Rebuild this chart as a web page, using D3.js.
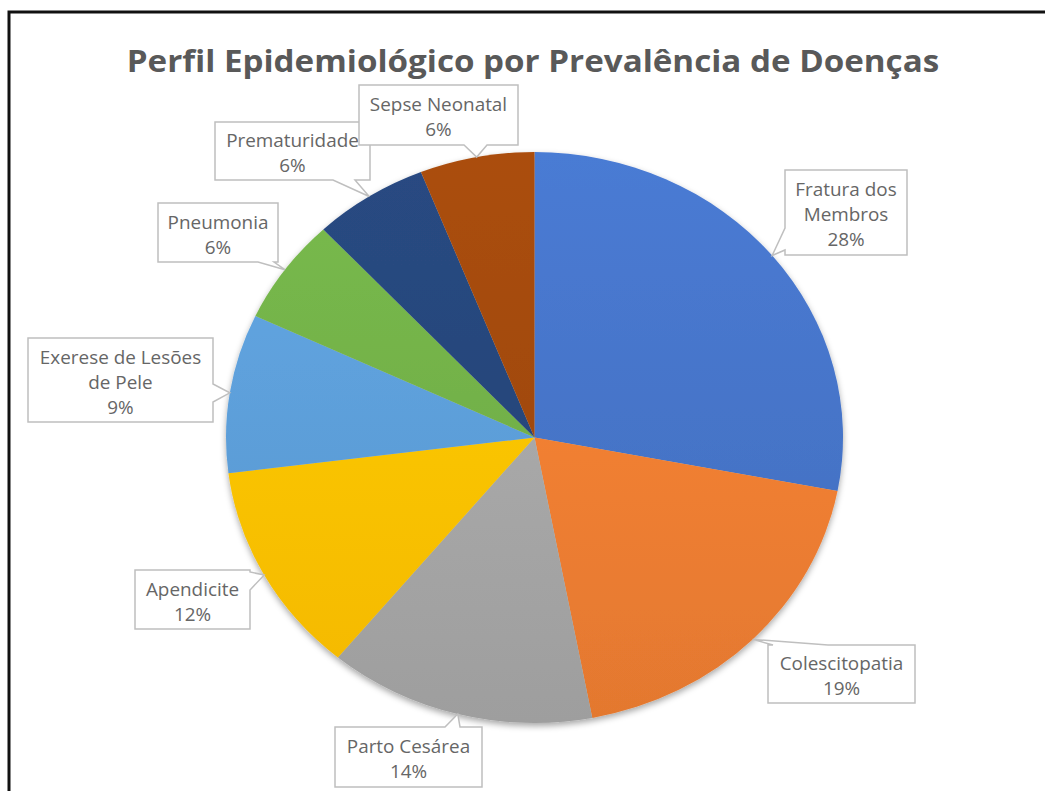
<!DOCTYPE html>
<html><head><meta charset="utf-8">
<script src="https://cdn.jsdelivr.net/npm/d3@7"></script>
<style>
html,body{margin:0;padding:0;background:#fff;}
svg{display:block;}
</style></head>
<body>
<svg id="chart" width="1045" height="791"></svg>
<script>
// ---- data ----
const categories = ["Fratura dos Membros","Colescitopatia","Parto Cesárea","Apendicite","Exerese de Lesões de Pele","Pneumonia","Prematuridade","Sepse Neonatal"];
const values = [28, 19, 14, 12, 9, 6, 6, 6];
const labelLines = [["Fratura dos","Membros"],["Colescitopatia"],["Parto Cesárea"],["Apendicite"],["Exerese de Lesões","de Pele"],["Pneumonia"],["Prematuridade"],["Sepse Neonatal"]];
const colors = ["#4472C4","#ED7D31","#A5A5A5","#FFC000","#5B9BD5","#70AD47","#264478","#9E480E"];
const title = "Perfil Epidemiológico por Prevalência de Doenças";

// ---- layout (label boxes: x, y, w, h, side of spike, base offsets) ----
const boxes = [
  {x:785,y:170,w:122,h:85,side:"left",b1:58,b2:80},
  {x:768,y:645,w:147,h:58,side:"top",b1:5,b2:60},
  {x:335,y:727,w:147,h:60,side:"top",b1:110,b2:125},
  {x:135,y:570,w:115,h:59,side:"right",b1:2,b2:20},
  {x:28,y:338,w:185,h:84,side:"right",b1:46,b2:64},
  {x:158,y:203,w:120,h:59,side:"bottom",b1:100,b2:116},
  {x:215,y:122,w:155,h:58,side:"bottom",b1:118,b2:140},
  {x:359,y:85,w:159,h:60,side:"bottom",b1:105,b2:128}
];

const W = 1045, H = 791;
const cx = 534.5, cy = 437.5, rx = 308.5, ry = 285.5;
const svg = d3.select("#chart");
const defs = svg.append("defs");

// frame
svg.append("rect").attr("x",9).attr("y",12).attr("width",1100).attr("height",900)
  .attr("fill","#fff").attr("stroke","#111").attr("stroke-width",3);

// title
svg.append("text").attr("x",533).attr("y",72).attr("text-anchor","middle")
  .attr("font-family","'Open Sans', sans-serif").attr("font-weight","bold")
  .attr("font-size",31).attr("fill","#595959")
  .attr("transform","translate(533,0) scale(1.07,1) translate(-533,0)")
  .text(title);

// shadow filter
const f = defs.append("filter").attr("id","shadow").attr("x","-10%").attr("y","-10%").attr("width","120%").attr("height","125%");
f.append("feDropShadow").attr("dx",0).attr("dy",3).attr("stdDeviation",3).attr("flood-color","#000").attr("flood-opacity",0.35);

// gradients
colors.forEach((c,i)=>{
  const g = defs.append("linearGradient").attr("id","g"+i)
    .attr("gradientUnits","userSpaceOnUse").attr("x1",0).attr("y1",-ry).attr("x2",0).attr("y2",ry);
  g.append("stop").attr("offset","0%").attr("stop-color",d3.color(c).brighter(0.22));
  g.append("stop").attr("offset","100%").attr("stop-color",d3.color(c).darker(0.12));
});

const pie = d3.pie().sort(null).value(d=>d);
const arcs = pie(values);
const arc = d3.arc().innerRadius(0).outerRadius(ry);

const pg = svg.append("g").attr("transform",`translate(${cx},${cy}) scale(${rx/ry},1)`).attr("filter","url(#shadow)");
pg.selectAll("path").data(arcs).join("path")
  .attr("d",arc).attr("fill",(d,i)=>`url(#g${i})`);

// callouts
function calloutPath(b, ax, ay){
  const {x,y,w,h,side,b1,b2} = b;
  let p = `M${x},${y}`;
  if(side==="top") p += `L${x+b1},${y}L${ax},${ay}L${x+b2},${y}`;
  p += `L${x+w},${y}`;
  if(side==="right") p += `L${x+w},${y+b1}L${ax},${ay}L${x+w},${y+b2}`;
  p += `L${x+w},${y+h}`;
  if(side==="bottom") p += `L${x+b2},${y+h}L${ax},${ay}L${x+b1},${y+h}`;
  p += `L${x},${y+h}`;
  if(side==="left") p += `L${x},${y+b2}L${ax},${ay}L${x},${y+b1}`;
  return p + "Z";
}
const total = d3.sum(values);
const lg = svg.append("g");
arcs.forEach((d,i)=>{
  const a = (d.startAngle+d.endAngle)/2;
  const ax = cx + rx*Math.sin(a), ay = cy - ry*Math.cos(a);
  const b = boxes[i];
  const g = lg.append("g");
  g.append("path").attr("d",calloutPath(b,ax,ay))
    .attr("fill","#fff").attr("stroke","#bfbfbf").attr("stroke-width",1.5);
  const lines = labelLines[i].concat([Math.round(values[i]/total*100)+"%"]);
  const bx = b.x + b.w/2, bcy = b.y + b.h/2;
  const t = g.append("text").attr("text-anchor","middle")
    .attr("font-family","'Open Sans', sans-serif").attr("font-size",18).attr("fill","#666")
    .attr("transform",`translate(${bx},0) scale(1.05,1) translate(${-bx},0)`);
  lines.forEach((s,k)=>{
    t.append("tspan").attr("x",bx).attr("y",bcy-(lines.length-1)*12.5+k*25+9).text(s);
  });
});
</script>
</body></html>
